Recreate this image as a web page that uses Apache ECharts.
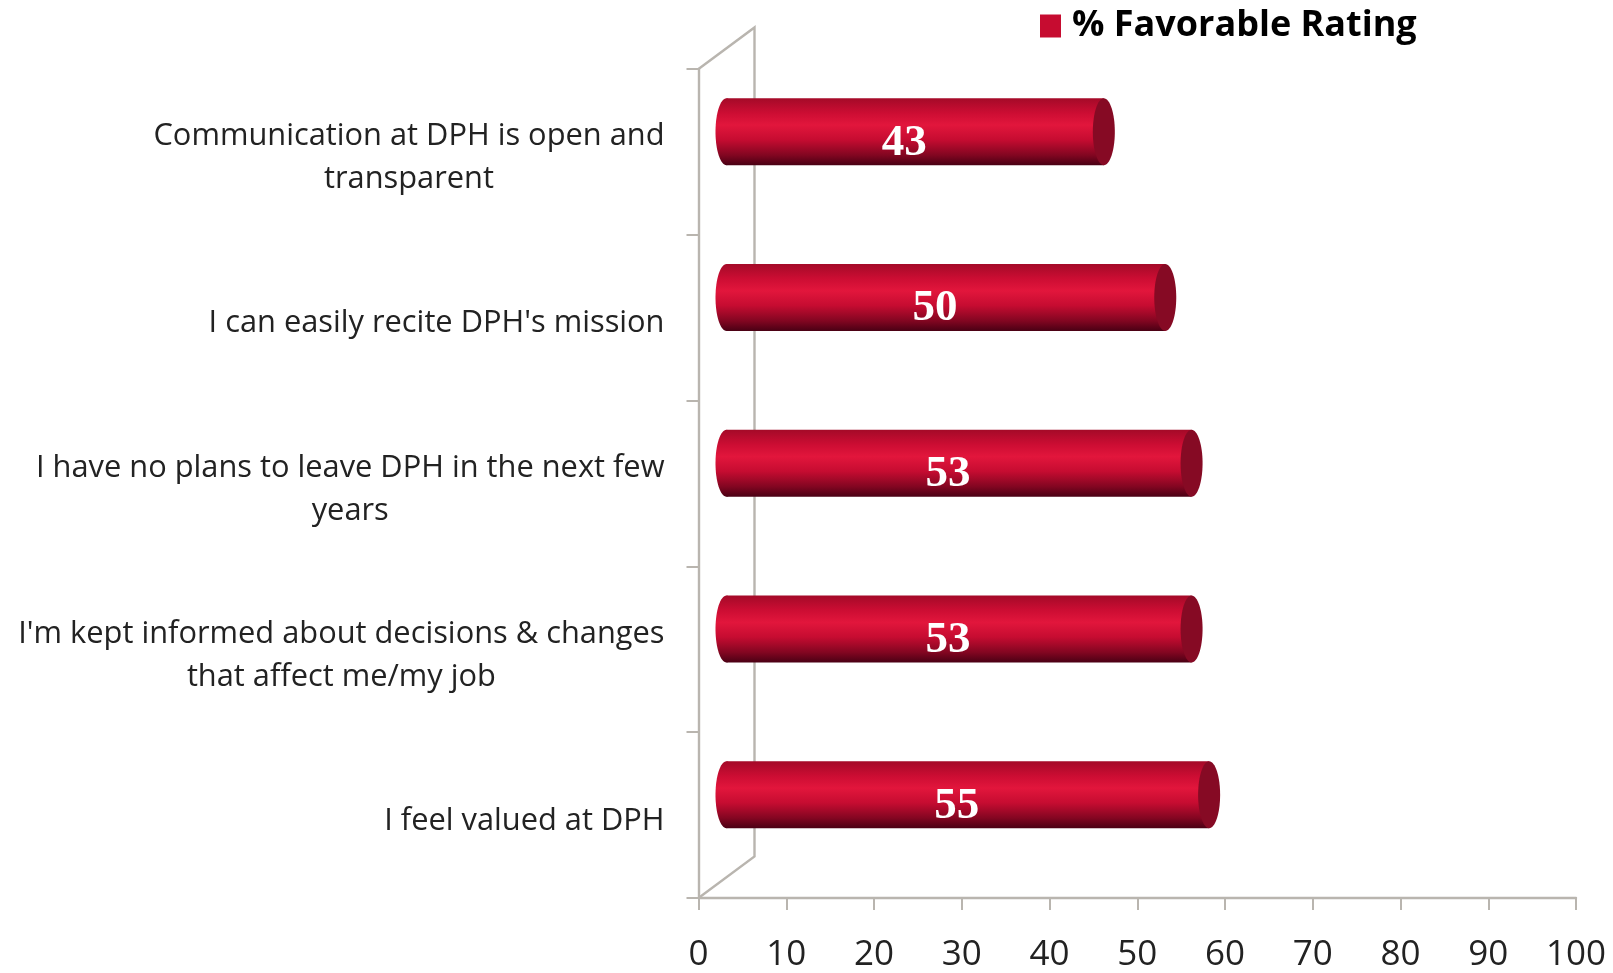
<!DOCTYPE html>
<html>
<head>
<meta charset="utf-8">
<title>% Favorable Rating</title>
<style>
  html, body { margin: 0; padding: 0; background: #fff; }
  #chart { width: 1613px; height: 973px; }
</style>
<script src="https://cdn.jsdelivr.net/npm/echarts@6/dist/echarts.min.js"></script>
</head>
<body>
<div id="chart"></div>
<script>
var seriesName = '% Favorable Rating';
var categories = [
  'Communication at DPH is open and\ntransparent',
  "I can easily recite DPH's mission",
  'I have no plans to leave DPH in the next few\nyears',
  "I'm kept informed about decisions & changes\nthat affect me/my job",
  'I feel valued at DPH'
];
var favorable = [43, 50, 53, 53, 55];

var AXIS_COLOR = '#b9b5af';
// fake 3d depth of the old chart, back wall is this far from the axes
var DEPTH_X = 56;
var DEPTH_Y = -41.5;

var chart = echarts.init(document.getElementById('chart'));

function renderWall(params, api) {
  var g = params.coordSys;
  var left = g.x, bottom = g.y + g.height, top = g.y;
  return {
    type: 'polyline',
    silent: true,
    shape: {
      points: [
        [left, bottom],
        [left + DEPTH_X, bottom + DEPTH_Y],
        [left + DEPTH_X, top + DEPTH_Y],
        [left, top]
      ]
    },
    style: { stroke: AXIS_COLOR, lineWidth: 2.4, fill: null }
  };
}

function renderCylinder(params, api) {
  var end = api.coord([api.value(0), api.value(1)]);
  var start = api.coord([0, api.value(1)]);
  var cy = end[1] + DEPTH_Y / 2 + 0.5;
  var x0 = start[0] + DEPTH_X / 2;
  var x1 = end[0] + DEPTH_X / 2;
  var ry = 33.5, rx = 11;
  var body = new echarts.graphic.LinearGradient(0, 0, 0, 1, [
    { offset: 0, color: '#a40a28' },
    { offset: 0.22, color: '#cc0d33' },
    { offset: 0.4, color: '#e2163c' },
    { offset: 0.62, color: '#c60c31' },
    { offset: 0.85, color: '#820621' },
    { offset: 1, color: '#4a0014' }
  ]);
  return {
    type: 'group',
    children: [
      { type: 'ellipse', shape: { cx: x0, cy: cy, rx: rx, ry: ry }, style: { fill: body } },
      { type: 'rect', shape: { x: x0, y: cy - ry, width: x1 - x0, height: ry * 2 }, style: { fill: body } },
      { type: 'ellipse', shape: { cx: x1, cy: cy, rx: rx, ry: ry }, style: { fill: '#860a24' } },
      {
        type: 'text',
        style: {
          x: (start[0] + end[0]) / 2 + 17,
          y: end[1] - 9,
          text: String(api.value(0)),
          fill: '#fff',
          align: 'center',
          verticalAlign: 'middle',
          font: 'bold 45px "Liberation Serif"'
        }
      }
    ]
  };
}

chart.setOption({
  animation: false,
  backgroundColor: '#fff',
  legend: {
    data: [seriesName],
    left: 1040,
    top: 8,
    icon: 'rect',
    itemWidth: 21,
    itemHeight: 23,
    itemGap: 0,
    padding: 0,
    textStyle: {
      fontFamily: 'Open Sans',
      fontWeight: 'bold',
      fontSize: 36,
      color: '#000',
      padding: [0, 0, 0, 6]
    }
  },
  grid: { left: 698.5, right: 37, top: 69, bottom: 75, containLabel: false },
  xAxis: {
    type: 'value',
    min: 0,
    max: 100,
    interval: 10,
    splitLine: { show: false },
    axisLine: { show: true, lineStyle: { color: AXIS_COLOR, width: 2.4 } },
    axisTick: { show: true, length: 12, lineStyle: { color: AXIS_COLOR, width: 2 } },
    axisLabel: {
      margin: 40,
      color: '#222',
      fontFamily: 'Open Sans',
      fontSize: 35,
      showMaxLabel: true,
      showMinLabel: true
    }
  },
  yAxis: {
    type: 'category',
    inverse: true,
    data: categories,
    splitLine: { show: false },
    axisLine: { show: true, lineStyle: { color: AXIS_COLOR, width: 2.4 } },
    axisTick: { show: true, length: 12, alignWithLabel: false, lineStyle: { color: AXIS_COLOR, width: 2 } },
    axisLabel: {
      margin: 34,
      interval: 0,
      // two line labels are centred on each other, the block stays right aligned
      formatter: function (value) {
        return value.split('\n').map(function (line) {
          return '{c|' + line + '}';
        }).join('\n');
      },
      rich: {
        c: {
          align: 'center',
          color: '#222',
          fontFamily: 'Open Sans',
          fontSize: 30.8,
          lineHeight: 43,
          padding: [12, 0, 0, 0]
        }
      }
    }
  },
  series: [
    {
      type: 'custom',
      silent: true,
      renderItem: renderWall,
      data: [0],
      z: 1,
      clip: false,
      legendHoverLink: false
    },
    {
      name: seriesName,
      type: 'custom',
      renderItem: renderCylinder,
      encode: { x: 0, y: 1 },
      data: favorable.map(function (v, i) { return [v, i]; }),
      itemStyle: { color: '#c60c30' },
      z: 3,
      clip: false
    }
  ]
});
</script>
</body>
</html>
